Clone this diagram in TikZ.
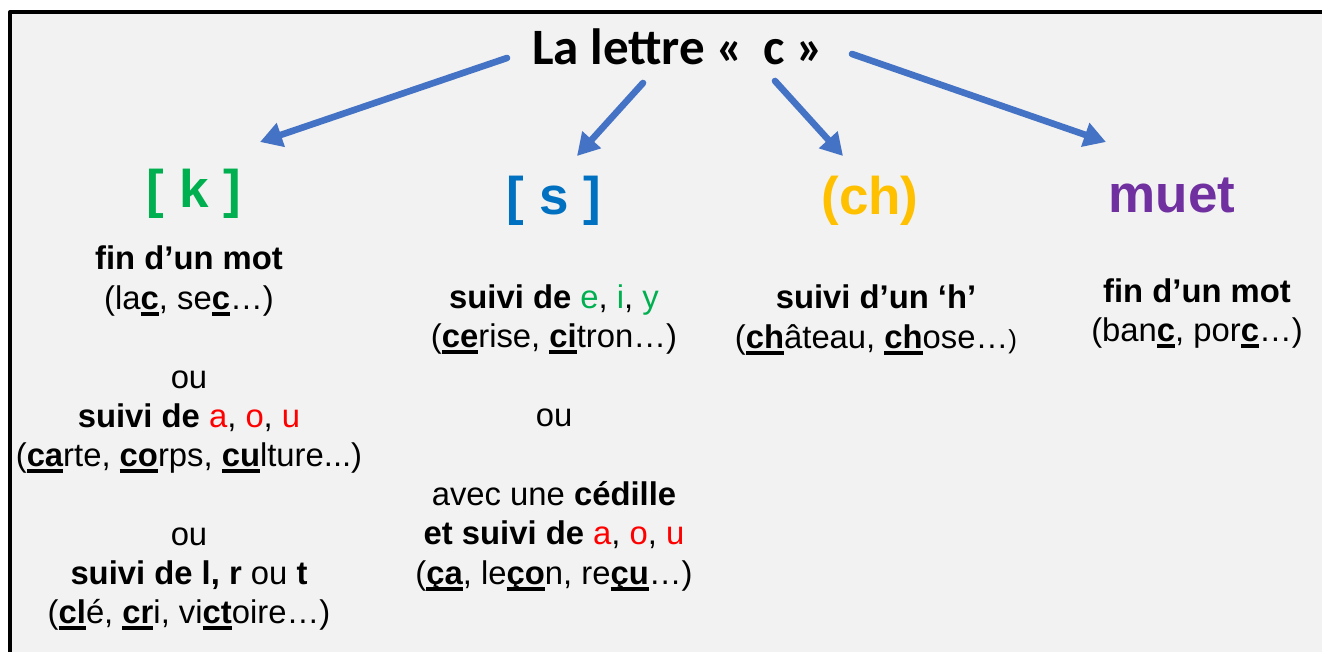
\documentclass[tikz,border=0pt]{standalone}
\usepackage{fontspec}
\setmainfont{Liberation Sans}
\newfontfamily\calibri{Carlito}
\usetikzlibrary{arrows.meta}
\definecolor{fond}{HTML}{F2F2F2}
\definecolor{fleche}{HTML}{4472C4}
\definecolor{vert}{HTML}{00B050}
\definecolor{bleu}{HTML}{0070C0}
\definecolor{jaune}{HTML}{FFC000}
\definecolor{violet}{HTML}{7030A0}
\definecolor{rouge}{HTML}{FF0000}
\newsavebox\soubox
\newcommand\sou[1]{\sbox\soubox{\bfseries #1}\rlap{\rule[-0.2em]{\wd\soubox}{0.11em}}\usebox\soubox}
\newcommand\aou{\textcolor{rouge}{a}, \textcolor{rouge}{o}, \textcolor{rouge}{u}}
\begin{document}
\begin{tikzpicture}[x=0.5pt, y=-0.5pt, line join=round, line cap=round,
	txt/.style={anchor=base, inner sep=0pt, font=\fontsize{16.4}{19.7}\selectfont},
	son/.style={anchor=base, inner sep=0pt, font=\fontsize{26.5}{30}\selectfont\bfseries},
	fl/.style={draw=fleche, line width=3.3pt, -{Triangle[length=11pt,width=12pt]}}]
	\useasboundingbox (0,0) rectangle (1322,652);
	\fill[fond] (10,12) rectangle (1322,652);
	\draw[line width=2pt] (10,660) -- (10,12) -- (1330,12);
	\node[anchor=base, inner sep=0pt, font=\calibri\fontsize{25.5}{30}\selectfont\bfseries] (titre) at (678,65) {La lettre «\hspace{0.38em}c »};
	\path (194,208) node[son, vert] (k) {[ k ]} (554,215) node[son, bleu] (s) {[ s ]}
		(870,215) node[son, jaune] (ch) {(ch)} (1172,213) node[son, violet] (muet) {muet};
	% [ k ]
	\path (189,270) node[txt] (k1) {\textbf{fin d’un mot}}
		(189,309) node[txt] (k2) {(la\sou{c}, se\sou{c}…)}
		(189,388) node[txt] (k3) {ou}
		(189,427) node[txt] (k4) {\textbf{suivi de} \aou}
		(189,466) node[txt] (k5) {(\sou{ca}rte, \sou{co}rps, \sou{cu}lture...)}
		(189,545) node[txt] (k6) {ou}
		(189,584) node[txt] (k7) {\textbf{suivi de l, r} ou \textbf{t}}
		(189,623) node[txt] (k8) {(\sou{cl}é, \sou{cr}i, vi\sou{ct}oire…)};
	% [ s ]
	\path (554,308) node[txt] (s1) {\textbf{suivi de} \textcolor{vert}{e}, \textcolor{vert}{i}, \textcolor{vert}{y}}
		(554,347) node[txt] (s2) {(\sou{ce}rise, \sou{ci}tron…)}
		(554,426) node[txt] (s3) {ou}
		(554,505) node[txt] (s4) {avec une \textbf{cédille}}
		(554,544) node[txt] (s5) {\textbf{et suivi de} \aou}
		(554,584) node[txt] (s6) {(\sou{ça}, le\sou{ço}n, re\sou{çu}…)};
	% (ch) et muet
	\path (876,308) node[txt] (ch1) {\textbf{suivi d’un ‘h’}}
		(876,348) node[txt] (ch2) {(\sou{ch}âteau, \sou{ch}ose…{\fontsize{13}{15}\selectfont)}}
		(1197,302) node[txt] (m1) {\textbf{fin d’un mot}}
		(1197,341) node[txt] (m2) {(ban\sou{c}, por\sou{c}…)};
	% fleches
	\coordinate (dk) at (507,58); \coordinate (ak) at (260,142);
	\coordinate (ds) at (643,83); \coordinate (as) at (577,156);
	\coordinate (dch) at (775,81); \coordinate (ach) at (843,156);
	\coordinate (dm) at (852,54); \coordinate (am) at (1106,142);
	\foreach \a in {k,s,ch,m} \draw[fl] (d\a) -- (a\a);
\end{tikzpicture}
\end{document}
